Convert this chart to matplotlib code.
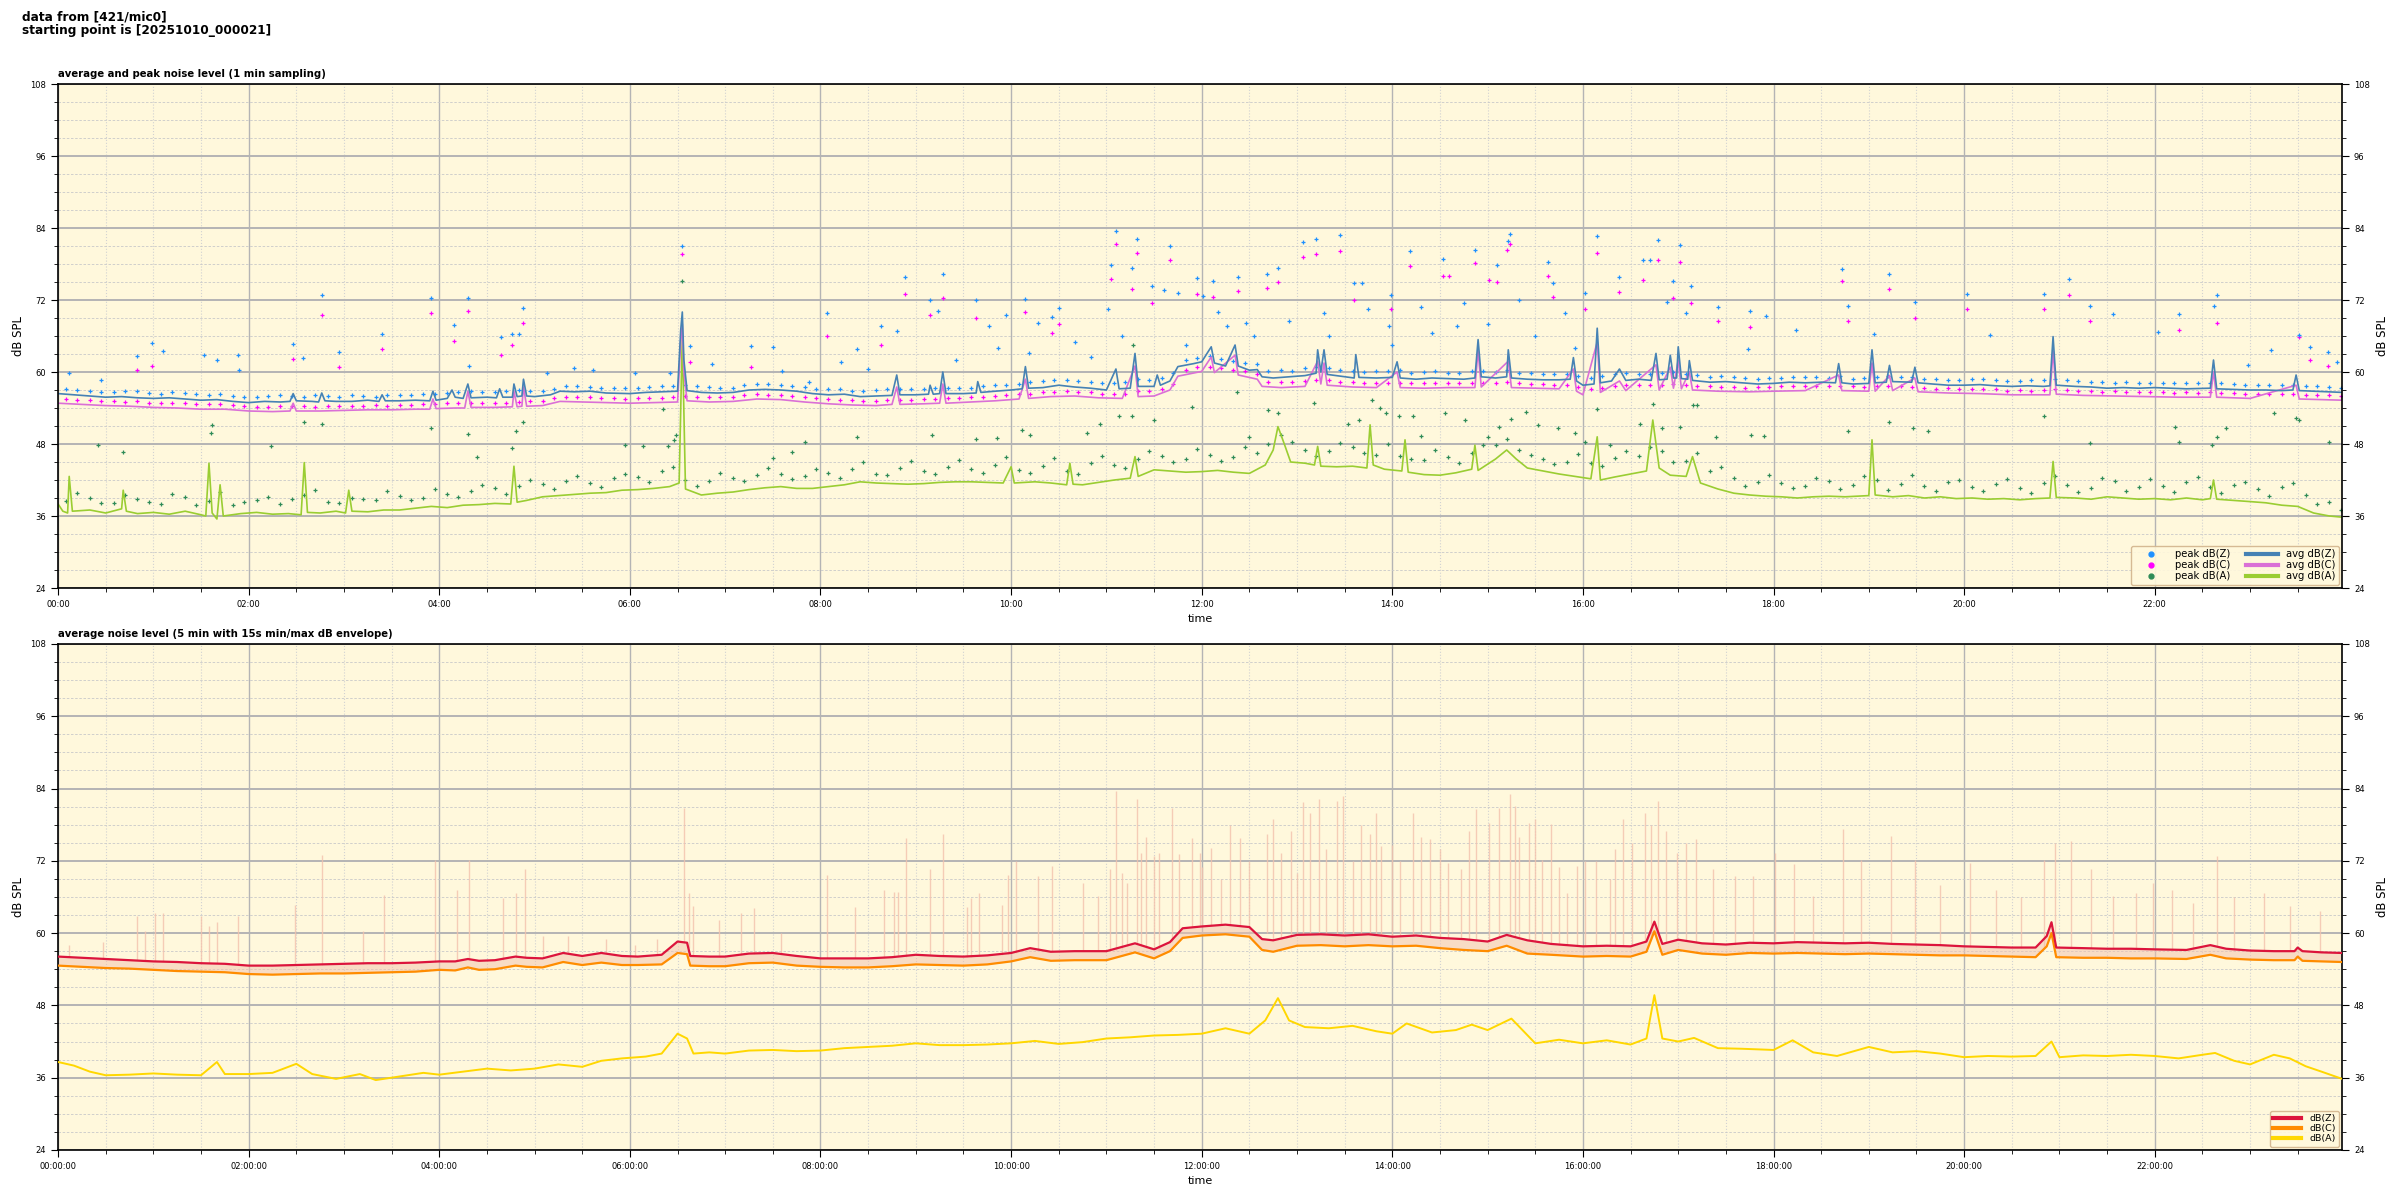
import datetime as dt
import matplotlib
matplotlib.use("Agg")
import matplotlib.pyplot as plt
import matplotlib.dates as mdates
from matplotlib.lines import Line2D
from matplotlib.ticker import MultipleLocator

DAY = dt.datetime(2025, 10, 10)

# ---- upper panel: 1 min averages (time, dB) ----
avg_z = [
    ("00:00", 56.4), ("00:10", 56.2), ("00:20", 56.0), ("00:30", 55.8), ("00:40", 55.9), ("00:50", 55.7),
    ("01:00", 55.6), ("01:10", 55.7), ("01:20", 55.5), ("01:30", 55.3), ("01:40", 55.4), ("01:50", 55.1),
    ("02:00", 54.9), ("02:10", 55.1), ("02:20", 55.0), ("02:26", 55.1), ("02:28", 56.4), ("02:30", 55.2),
    ("02:40", 55.1), ("02:44", 55.0), ("02:46", 56.5), ("02:48", 55.2), ("02:55", 55.1), ("03:05", 55.1),
    ("03:15", 55.3), ("03:22", 55.1), ("03:24", 56.2), ("03:26", 55.2), ("03:35", 55.2), ("03:45", 55.3),
    ("03:54", 55.2), ("03:56", 56.8), ("03:58", 55.3), ("04:05", 55.6), ("04:08", 57.0), ("04:10", 55.8),
    ("04:15", 55.6), ("04:18", 58.0), ("04:20", 55.7), ("04:30", 55.8), ("04:36", 55.7), ("04:38", 57.2),
    ("04:40", 55.8), ("04:46", 55.8), ("04:47", 58.0), ("04:49", 55.9), ("04:52", 56.0), ("04:53", 58.8),
    ("04:55", 56.0), ("05:00", 55.9), ("05:10", 56.2), ("05:16", 56.8), ("05:25", 56.7), ("05:35", 56.8),
    ("05:45", 56.5), ("06:00", 56.4), ("06:10", 56.6), ("06:20", 56.7), ("06:30", 56.8), ("06:32", 67.0),
    ("06:33", 70.0), ("06:34", 62.0), ("06:36", 56.9), ("06:45", 56.6), ("06:55", 56.5), ("07:05", 56.6),
    ("07:15", 57.0), ("07:25", 57.1), ("07:35", 57.0), ("07:45", 56.8), ("07:55", 56.4), ("08:05", 56.2),
    ("08:15", 56.3), ("08:25", 55.9), ("08:35", 56.0), ("08:45", 56.1), ("08:48", 59.5), ("08:50", 56.2),
    ("09:00", 56.2), ("09:08", 56.3), ("09:09", 57.8), ("09:11", 56.3), ("09:15", 56.4), ("09:17", 60.0),
    ("09:19", 56.4), ("09:30", 56.4), ("09:38", 56.5), ("09:39", 58.4), ("09:41", 56.6), ("09:50", 56.8),
    ("10:00", 57.0), ("10:07", 57.2), ("10:09", 60.9), ("10:11", 57.3), ("10:20", 57.4), ("10:30", 57.8),
    ("10:40", 57.5), ("10:50", 57.3), ("11:00", 57.0), ("11:06", 60.5), ("11:08", 57.2), ("11:15", 57.3),
    ("11:18", 63.1), ("11:20", 57.6), ("11:30", 57.6), ("11:32", 59.5), ("11:34", 57.8), ("11:40", 58.5),
    ("11:45", 60.9), ("11:55", 61.4), ("12:00", 61.7), ("12:06", 64.2), ("12:08", 61.5), ("12:15", 61.0),
    ("12:21", 64.5), ("12:23", 61.0), ("12:30", 60.3), ("12:35", 60.4), ("12:38", 59.2), ("12:45", 59.0),
    ("12:55", 59.2), ("13:05", 59.4), ("13:12", 59.8), ("13:13", 63.7), ("13:15", 60.0), ("13:17", 63.7),
    ("13:19", 59.6), ("13:30", 59.2), ("13:36", 59.0), ("13:37", 62.9), ("13:39", 59.1), ("13:50", 59.0),
    ("14:00", 59.1), ("14:03", 61.7), ("14:05", 59.0), ("14:15", 58.8), ("14:25", 59.0), ("14:35", 58.9),
    ("14:45", 58.8), ("14:52", 59.0), ("14:54", 65.4), ("14:56", 59.2), ("15:05", 59.0), ("15:12", 59.2),
    ("15:13", 63.7), ("15:15", 59.0), ("15:25", 58.8), ("15:35", 58.7), ("15:45", 58.7), ("15:52", 58.8),
    ("15:54", 62.4), ("15:56", 58.5), ("16:00", 57.8), ("16:07", 58.0), ("16:09", 67.3), ("16:11", 58.2),
    ("16:18", 58.5), ("16:23", 60.5), ("16:27", 58.6), ("16:35", 58.8), ("16:43", 58.6), ("16:46", 63.1),
    ("16:48", 58.7), ("16:53", 58.8), ("16:55", 62.8), ("16:57", 59.0), ("16:59", 59.0), ("17:00", 64.2),
    ("17:02", 58.9), ("17:06", 58.8), ("17:07", 61.9), ("17:09", 58.6), ("17:20", 58.3), ("17:30", 58.4),
    ("17:40", 58.2), ("17:50", 58.0), ("18:00", 58.1), ("18:10", 58.3), ("18:20", 58.2), ("18:30", 58.3),
    ("18:39", 58.2), ("18:41", 61.4), ("18:43", 58.2), ("18:50", 58.0), ("19:00", 58.1), ("19:02", 63.7),
    ("19:04", 58.2), ("19:11", 58.3), ("19:13", 61.1), ("19:15", 58.4), ("19:27", 58.3), ("19:29", 60.8),
    ("19:31", 58.2), ("19:40", 58.0), ("19:50", 57.8), ("20:00", 57.8), ("20:10", 57.9), ("20:20", 57.7),
    ("20:30", 57.6), ("20:40", 57.7), ("20:50", 57.6), ("20:54", 57.7), ("20:56", 65.9), ("20:58", 57.8),
    ("21:10", 57.6), ("21:20", 57.5), ("21:30", 57.3), ("21:40", 57.4), ("21:50", 57.3), ("22:00", 57.4),
    ("22:10", 57.3), ("22:20", 57.2), ("22:35", 57.3), ("22:37", 62.0), ("22:39", 57.2), ("22:50", 57.1),
    ("23:00", 57.0), ("23:10", 57.0), ("23:20", 56.9), ("23:27", 57.0), ("23:29", 59.5), ("23:31", 56.9),
    ("23:40", 56.8), ("23:50", 56.7), ("23:58", 56.6),
]

avg_c = [
    ("00:00", 54.8), ("00:15", 54.6), ("00:30", 54.4), ("00:45", 54.3), ("01:00", 54.1), ("01:15", 54.0),
    ("01:30", 53.8), ("01:45", 53.8), ("02:00", 53.5), ("02:15", 53.4), ("02:26", 53.5), ("02:28", 54.8),
    ("02:30", 53.5), ("02:45", 53.5), ("03:00", 53.6), ("03:15", 53.7), ("03:30", 53.7), ("03:45", 53.8),
    ("03:54", 53.8), ("03:56", 55.5), ("03:58", 53.9), ("04:10", 54.0), ("04:16", 54.0), ("04:18", 56.8),
    ("04:20", 54.1), ("04:35", 54.1), ("04:46", 54.2), ("04:47", 56.8), ("04:49", 54.2), ("04:52", 54.3),
    ("04:53", 57.5), ("04:55", 54.3), ("05:05", 54.4), ("05:16", 55.1), ("05:30", 55.0), ("05:45", 54.9),
    ("06:00", 54.8), ("06:15", 54.9), ("06:30", 55.0), ("06:32", 65.0), ("06:33", 68.0), ("06:34", 60.0),
    ("06:36", 55.2), ("06:50", 55.0), ("07:05", 55.1), ("07:20", 55.5), ("07:35", 55.4), ("07:50", 55.0),
    ("08:05", 54.7), ("08:20", 54.5), ("08:35", 54.4), ("08:45", 54.6), ("08:48", 57.5), ("08:50", 54.6),
    ("09:05", 54.7), ("09:15", 54.8), ("09:17", 58.0), ("09:19", 54.8), ("09:35", 55.0), ("09:50", 55.2),
    ("10:05", 55.5), ("10:09", 58.8), ("10:11", 55.6), ("10:25", 55.9), ("10:40", 56.0), ("10:55", 55.7),
    ("11:10", 55.6), ("11:18", 61.0), ("11:20", 55.9), ("11:30", 56.0), ("11:40", 57.0), ("11:45", 59.3),
    ("12:00", 60.1), ("12:06", 62.5), ("12:08", 59.9), ("12:21", 62.8), ("12:23", 59.5), ("12:35", 58.8),
    ("12:38", 57.6), ("12:50", 57.4), ("13:05", 57.6), ("13:13", 61.8), ("13:15", 58.0), ("13:17", 61.5),
    ("13:19", 57.8), ("13:35", 57.5), ("13:50", 57.4), ("14:03", 60.0), ("14:05", 57.4), ("14:20", 57.3),
    ("14:35", 57.4), ("14:52", 57.4), ("14:54", 63.6), ("14:56", 57.5), ("15:13", 61.8), ("15:15", 57.4),
    ("15:30", 57.3), ("15:45", 57.2), ("15:54", 60.5), ("15:56", 56.8), ("16:00", 56.2), ("16:09", 65.0),
    ("16:11", 56.6), ("16:23", 58.5), ("16:27", 56.9), ("16:46", 61.2), ("16:48", 57.0), ("16:55", 60.8),
    ("16:57", 57.3), ("17:00", 62.0), ("17:02", 57.2), ("17:07", 60.0), ("17:09", 57.0), ("17:25", 56.8),
    ("17:45", 56.7), ("18:00", 56.8), ("18:20", 56.9), ("18:41", 59.5), ("18:43", 56.9), ("19:00", 56.8),
    ("19:02", 61.5), ("19:04", 56.8), ("19:13", 59.4), ("19:15", 56.9), ("19:29", 59.0), ("19:31", 56.7),
    ("19:50", 56.5), ("20:10", 56.4), ("20:30", 56.2), ("20:54", 56.2), ("20:56", 63.5), ("20:58", 56.3),
    ("21:15", 56.1), ("21:35", 56.0), ("21:55", 55.9), ("22:15", 55.8), ("22:35", 55.8), ("22:37", 60.0),
    ("22:39", 55.8), ("23:00", 55.6), ("23:29", 57.8), ("23:31", 55.5), ("23:45", 55.4), ("23:58", 55.3),
]

avg_a = [
    ("00:00", 38.0), ("00:03", 36.8), ("00:06", 36.5), ("00:07", 42.6), ("00:09", 36.8), ("00:20", 37.0),
    ("00:30", 36.5), ("00:40", 37.2), ("00:41", 40.3), ("00:43", 36.8), ("00:50", 36.4), ("01:00", 36.6),
    ("01:10", 36.3), ("01:20", 36.8), ("01:30", 36.2), ("01:33", 36.0), ("01:35", 44.8), ("01:37", 36.5),
    ("01:40", 35.5), ("01:42", 41.2), ("01:44", 36.0), ("01:55", 36.4), ("02:05", 36.6), ("02:15", 36.3),
    ("02:25", 36.4), ("02:33", 36.2), ("02:35", 44.9), ("02:37", 36.6), ("02:45", 36.5), ("02:55", 36.8),
    ("03:01", 36.5), ("03:03", 40.3), ("03:05", 36.8), ("03:15", 36.7), ("03:25", 37.0), ("03:35", 37.0),
    ("03:45", 37.3), ("03:55", 37.6), ("04:05", 37.4), ("04:15", 37.8), ("04:25", 37.9), ("04:35", 38.1),
    ("04:45", 38.0), ("04:47", 44.3), ("04:49", 38.3), ("04:55", 38.6), ("05:05", 39.2), ("05:15", 39.4),
    ("05:25", 39.6), ("05:35", 39.8), ("05:45", 39.9), ("05:55", 40.3), ("06:05", 40.4), ("06:15", 40.6),
    ("06:25", 40.9), ("06:31", 41.5), ("06:33", 66.0), ("06:35", 40.5), ("06:45", 39.5), ("06:55", 39.8),
    ("07:05", 40.0), ("07:15", 40.4), ("07:25", 40.7), ("07:35", 40.9), ("07:45", 40.6), ("07:55", 40.6),
    ("08:05", 40.9), ("08:15", 41.2), ("08:25", 41.7), ("08:35", 41.5), ("08:45", 41.4), ("08:55", 41.3),
    ("09:05", 41.4), ("09:15", 41.6), ("09:25", 41.7), ("09:35", 41.7), ("09:45", 41.6), ("09:55", 41.5),
    ("10:00", 44.2), ("10:02", 41.5), ("10:15", 41.7), ("10:25", 41.5), ("10:35", 41.2), ("10:37", 44.8),
    ("10:39", 41.3), ("10:45", 41.2), ("10:55", 41.6), ("11:05", 42.0), ("11:15", 42.3), ("11:18", 45.9),
    ("11:20", 42.6), ("11:30", 43.7), ("11:40", 43.5), ("11:50", 43.3), ("12:00", 43.4), ("12:10", 43.6),
    ("12:20", 43.3), ("12:30", 43.1), ("12:40", 44.5), ("12:45", 47.0), ("12:48", 50.9), ("12:52", 48.0),
    ("12:56", 45.0), ("13:05", 44.8), ("13:11", 44.5), ("13:13", 47.6), ("13:15", 44.3), ("13:25", 44.2),
    ("13:35", 44.3), ("13:44", 44.0), ("13:46", 51.2), ("13:48", 44.5), ("13:55", 43.8), ("14:06", 43.5),
    ("14:08", 48.7), ("14:10", 43.3), ("14:20", 42.9), ("14:30", 42.8), ("14:40", 43.2), ("14:50", 43.8),
    ("14:52", 47.8), ("14:54", 43.6), ("15:05", 45.5), ("15:12", 47.0), ("15:18", 45.5), ("15:25", 44.0),
    ("15:35", 43.5), ("15:45", 43.0), ("15:55", 42.6), ("16:05", 42.2), ("16:09", 49.2), ("16:11", 42.0),
    ("16:20", 42.5), ("16:30", 43.0), ("16:40", 43.5), ("16:44", 52.0), ("16:48", 44.0), ("16:55", 42.8),
    ("17:05", 42.6), ("17:09", 45.9), ("17:14", 41.5), ("17:25", 40.5), ("17:35", 39.8), ("17:45", 39.5),
    ("17:55", 39.3), ("18:05", 39.2), ("18:15", 39.0), ("18:25", 39.2), ("18:35", 39.3), ("18:45", 39.2),
    ("19:00", 39.4), ("19:02", 48.7), ("19:04", 39.5), ("19:15", 39.2), ("19:25", 39.4), ("19:35", 39.0),
    ("19:45", 39.2), ("19:55", 38.9), ("20:05", 39.0), ("20:15", 38.8), ("20:25", 38.9), ("20:35", 38.7),
    ("20:45", 38.9), ("20:54", 39.0), ("20:56", 45.1), ("20:58", 39.1), ("21:10", 39.0), ("21:20", 38.8),
    ("21:30", 39.2), ("21:40", 39.0), ("21:50", 38.8), ("22:00", 38.9), ("22:10", 38.7), ("22:20", 39.0),
    ("22:30", 38.7), ("22:35", 38.9), ("22:37", 42.0), ("22:39", 38.8), ("22:50", 38.6), ("23:00", 38.4),
    ("23:10", 38.2), ("23:20", 37.8), ("23:30", 37.6), ("23:40", 36.5), ("23:50", 36.0), ("23:58", 35.8),
]

# peak values near the average lines, every 15 min from 00:05 (band 1) and from 00:12 (band 2)
band_z = [
    57.2, 56.9, 56.6, 56.8, 56.4, 56.5, 56.2, 56.0, 55.8, 56.1, 55.9, 56.0, 56.2, 55.9, 56.1, 56.3,
    56.5, 56.8, 56.6, 57.0, 56.9, 57.6, 57.5, 57.4, 57.3, 57.6, 57.8, 57.5, 57.4, 58.0, 57.8, 57.5,
    57.1, 56.9, 57.0, 57.2, 57.1, 57.4, 57.3, 57.8, 58.0, 58.5, 58.6, 58.4, 58.2, 58.8, 59.0, 62.0,
    62.6, 61.9, 61.4, 60.3, 60.6, 60.7, 60.2, 60.1, 60.3, 60.0, 59.9, 60.1, 60.0, 59.8, 59.7, 59.6,
    59.0, 59.6, 59.7, 59.9, 59.7, 59.2, 59.2, 58.9, 59.0, 59.1, 59.0, 58.9, 59.1, 59.2, 58.9, 58.7,
    58.8, 58.6, 58.5, 58.6, 58.7, 58.4, 58.2, 58.2, 58.2, 58.1, 58.2, 58.0, 57.9, 57.8, 57.7, 57.5,
]
band_z2 = [
    57.0, 56.7, 56.9, 56.5, 56.6, 56.3, 56.4, 55.8, 56.0, 56.0, 56.1, 55.9, 56.0, 56.1, 56.2, 56.4,
    56.7, 56.6, 56.8, 56.8, 57.2, 57.7, 57.4, 57.3, 57.5, 57.7, 57.6, 57.3, 57.8, 58.0, 57.7, 57.2,
    57.2, 56.8, 57.1, 57.2, 57.3, 57.4, 57.6, 57.9, 58.3, 58.6, 58.5, 58.1, 58.3, 58.6, 59.8, 62.3,
    62.1, 61.5, 60.1, 60.2, 60.8, 60.4, 60.0, 60.2, 59.9, 60.1, 59.8, 60.2, 60.3, 59.8, 59.6, 59.3,
    59.3, 59.8, 59.6, 60.0, 59.5, 59.3, 59.0, 59.0, 59.2, 59.1, 59.3, 59.0, 59.3, 59.1, 58.8, 58.7,
    58.8, 58.5, 58.6, 58.9, 58.5, 58.3, 58.3, 58.2, 58.2, 58.1, 58.1, 57.9, 57.9, 57.8, 57.6, 57.4,
]
band_c = [
    55.5, 55.4, 55.2, 55.1, 54.9, 54.8, 54.6, 54.5, 54.2, 54.3, 54.3, 54.3, 54.4, 54.5, 54.5, 54.6,
    54.8, 54.9, 54.9, 55.0, 55.2, 55.9, 55.8, 55.7, 55.6, 55.7, 56.0, 55.8, 55.9, 56.3, 56.2, 55.8,
    55.5, 55.3, 55.2, 55.4, 55.5, 55.6, 55.8, 56.0, 56.3, 56.6, 56.8, 56.6, 56.4, 56.8, 57.2, 60.3,
    60.9, 60.4, 59.6, 58.3, 58.5, 58.6, 58.3, 58.2, 58.2, 58.1, 58.2, 58.2, 58.2, 58.1, 58.0, 57.9,
    57.2, 57.6, 57.8, 57.9, 57.9, 57.6, 57.5, 57.5, 57.6, 57.7, 57.6, 57.6, 57.6, 57.6, 57.4, 57.3,
    57.2, 57.1, 57.0, 57.0, 57.0, 56.9, 56.8, 56.7, 56.7, 56.6, 56.6, 56.5, 56.4, 56.3, 56.2, 56.1,
]
band_c2 = [
    55.4, 55.2, 55.0, 54.9, 54.8, 54.6, 54.6, 54.3, 54.2, 54.3, 54.2, 54.3, 54.4, 54.4, 54.5, 54.6,
    54.8, 54.8, 54.9, 55.1, 55.6, 55.8, 55.7, 55.5, 55.6, 55.8, 55.9, 55.8, 56.1, 56.2, 56.0, 55.6,
    55.4, 55.2, 55.3, 55.4, 55.5, 55.7, 55.8, 56.1, 56.4, 56.7, 56.7, 56.4, 56.4, 56.8, 58.0, 60.8,
    60.6, 60.2, 58.3, 58.3, 58.6, 58.4, 58.2, 58.1, 58.1, 58.2, 58.1, 58.2, 58.3, 58.0, 57.9, 57.5,
    57.4, 57.8, 57.8, 58.0, 57.7, 57.5, 57.4, 57.5, 57.6, 57.6, 57.7, 57.5, 57.7, 57.5, 57.2, 57.2,
    57.1, 56.9, 56.9, 57.2, 56.8, 56.7, 56.7, 56.6, 56.5, 56.5, 56.5, 56.3, 56.3, 56.4, 56.1, 56.0,
]
band_a = [
    38.5, 39.0, 38.2, 38.8, 38.0, 39.2, 38.5, 37.8, 38.6, 38.0, 39.5, 38.4, 39.0, 38.6, 39.4, 39.0,
    39.6, 40.2, 40.6, 41.0, 41.3, 41.8, 41.5, 42.3, 42.5, 43.5, 42.0, 41.8, 42.3, 42.8, 43.0, 42.6,
    43.2, 43.8, 43.0, 44.0, 43.5, 44.2, 43.8, 44.5, 43.6, 44.3, 43.5, 44.8, 44.5, 45.5, 46.0, 45.5,
    46.2, 45.8, 46.5, 49.5, 47.0, 46.8, 47.5, 46.2, 46.0, 45.3, 45.8, 46.5, 47.8, 47.0, 45.5, 45.0,
    44.8, 45.6, 46.0, 46.8, 45.2, 43.5, 42.3, 41.6, 41.5, 41.0, 41.8, 41.2, 42.0, 41.4, 41.0, 41.6,
    40.8, 41.3, 40.6, 41.5, 41.2, 40.7, 41.8, 40.9, 41.0, 41.6, 40.8, 41.2, 40.5, 40.9, 39.5, 38.4,
]
band_a2 = [
    39.8, 38.1, 39.5, 38.4, 39.7, 37.9, 40.0, 38.3, 39.2, 38.8, 40.3, 38.2, 38.9, 40.1, 38.7, 40.5,
    39.1, 41.2, 39.6, 42.0, 40.5, 42.6, 40.8, 43.0, 41.6, 44.2, 41.0, 43.2, 41.8, 44.0, 42.1, 43.9,
    42.4, 45.0, 42.9, 45.2, 43.0, 45.3, 43.1, 45.8, 43.2, 45.6, 43.0, 46.0, 44.0, 46.8, 45.0, 47.2,
    45.1, 47.5, 48.0, 48.3, 46.0, 48.2, 46.5, 48.0, 45.5, 47.0, 44.8, 47.9, 48.8, 46.2, 44.6, 46.3,
    44.3, 46.9, 47.5, 45.0, 46.5, 44.2, 41.0, 42.8, 40.6, 42.4, 40.5, 42.6, 40.4, 42.8, 40.2, 42.0,
    40.1, 42.2, 39.9, 42.7, 40.0, 42.3, 40.2, 42.1, 40.0, 42.5, 39.9, 41.7, 39.3, 41.5, 38.0, 37.0,
]

peak_z = [
    ("00:07", 59.8), ("00:27", 58.7), ("00:50", 62.7), ("00:59", 64.8), ("01:06", 63.5), ("01:32", 62.8),
    ("01:40", 62.0), ("01:53", 62.8), ("01:54", 60.4), ("02:28", 64.7), ("02:34", 62.4), ("02:46", 72.8),
    ("02:57", 63.3), ("03:24", 66.4), ("03:55", 72.3), ("04:09", 67.8), ("04:18", 72.3), ("04:19", 61.0),
    ("04:39", 65.9), ("04:46", 66.4), ("04:50", 66.4), ("04:53", 70.6), ("05:08", 59.9), ("05:25", 60.6),
    ("05:37", 60.3), ("06:03", 59.9), ("06:25", 59.9), ("06:33", 81.0), ("06:38", 64.3), ("06:52", 61.4),
    ("07:16", 64.3), ("07:30", 64.1), ("07:36", 60.2), ("07:53", 58.4), ("08:04", 69.8), ("08:13", 61.7),
    ("08:23", 63.9), ("08:30", 60.5), ("08:38", 67.7), ("08:48", 66.9), ("08:53", 75.9), ("09:09", 72.0),
    ("09:14", 70.2), ("09:17", 76.3), ("09:25", 62.0), ("09:38", 72.0), ("09:46", 67.6), ("09:52", 64.0),
    ("09:57", 69.5), ("10:09", 72.1), ("10:11", 63.1), ("10:17", 68.1), ("10:26", 69.1), ("10:30", 70.6),
    ("10:40", 65.0), ("10:50", 62.5), ("11:01", 70.5), ("11:03", 77.9), ("11:06", 83.5), ("11:10", 66.0),
    ("11:16", 77.3), ("11:19", 82.1), ("11:29", 74.3), ("11:36", 73.7), ("11:40", 81.0), ("11:45", 73.1),
    ("11:50", 64.5), ("11:57", 75.7), ("12:01", 72.6), ("12:07", 75.1), ("12:10", 70.0), ("12:16", 67.6),
    ("12:23", 75.9), ("12:28", 68.1), ("12:33", 66.0), ("12:41", 76.3), ("12:48", 77.3), ("12:55", 68.5),
    ("13:04", 81.6), ("13:12", 82.2), ("13:17", 69.8), ("13:20", 66.0), ("13:27", 82.8), ("13:36", 74.8),
    ("13:41", 74.9), ("13:45", 70.5), ("13:58", 67.6), ("13:59", 72.9), ("14:00", 64.5), ("14:11", 80.1),
    ("14:18", 70.9), ("14:25", 66.5), ("14:32", 78.9), ("14:41", 67.6), ("14:45", 71.5), ("14:52", 80.3),
    ("15:00", 68.0), ("15:06", 77.8), ("15:13", 81.9), ("15:14", 83.0), ("15:20", 72.0), ("15:30", 66.0),
    ("15:38", 78.4), ("15:41", 74.9), ("15:49", 69.8), ("15:55", 64.0), ("16:01", 73.1), ("16:09", 82.7),
    ("16:23", 75.8), ("16:38", 78.7), ("16:42", 78.6), ("16:47", 82.0), ("16:53", 71.7), ("16:57", 75.2),
    ("17:01", 81.2), ("17:05", 69.9), ("17:08", 74.3), ("17:25", 70.9), ("17:44", 63.8), ("17:45", 70.2),
    ("17:55", 69.3), ("18:14", 67.0), ("18:43", 77.1), ("18:47", 71.0), ("19:03", 66.4), ("19:13", 76.3),
    ("19:29", 71.7), ("20:02", 73.0), ("20:16", 66.2), ("20:50", 73.0), ("21:06", 75.5), ("21:19", 71.0),
    ("21:34", 69.6), ("22:02", 66.6), ("22:15", 69.6), ("22:37", 71.0), ("22:39", 72.8), ("22:59", 61.2),
    ("23:13", 63.7), ("23:31", 66.2), ("23:38", 64.1), ("23:49", 63.4), ("23:55", 61.7),
]
peak_c = [
    ("00:50", 60.3), ("00:59", 61.0), ("02:28", 62.2), ("02:46", 69.5), ("02:57", 60.8), ("03:24", 63.8),
    ("03:55", 69.9), ("04:09", 65.1), ("04:18", 70.2), ("04:39", 62.8), ("04:46", 64.5), ("04:53", 68.1),
    ("06:33", 79.7), ("06:38", 61.6), ("07:16", 60.8), ("08:04", 66.0), ("08:38", 64.5), ("08:53", 73.0),
    ("09:09", 69.5), ("09:17", 72.3), ("09:38", 69.0), ("10:09", 70.0), ("10:26", 66.5), ("10:30", 68.0),
    ("11:03", 75.5), ("11:06", 81.3), ("11:16", 73.9), ("11:19", 79.8), ("11:29", 71.5), ("11:40", 78.7),
    ("11:57", 73.0), ("12:07", 72.5), ("12:23", 73.5), ("12:41", 74.0), ("12:48", 75.0), ("13:04", 79.2),
    ("13:12", 79.7), ("13:27", 80.1), ("13:36", 72.0), ("13:59", 70.5), ("14:11", 77.7), ("14:32", 76.0),
    ("14:36", 76.0), ("14:52", 78.2), ("15:01", 75.3), ("15:06", 75.0), ("15:12", 80.3), ("15:14", 81.3),
    ("15:38", 76.0), ("15:41", 72.5), ("16:01", 70.5), ("16:09", 79.8), ("16:23", 73.4), ("16:38", 75.4),
    ("16:47", 78.7), ("16:57", 72.4), ("17:01", 78.3), ("17:08", 71.5), ("17:25", 68.5), ("17:45", 67.5),
    ("18:43", 75.1), ("18:47", 68.5), ("19:13", 73.9), ("19:29", 69.0), ("20:02", 70.5), ("20:50", 70.5),
    ("21:06", 72.9), ("21:19", 68.5), ("22:15", 67.0), ("22:39", 68.1), ("23:31", 65.9), ("23:38", 62.0),
    ("23:49", 61.0),
]
peak_a = [
    ("00:25", 47.8), ("00:41", 46.7), ("01:36", 49.8), ("01:37", 51.2), ("02:14", 47.6), ("02:35", 51.7),
    ("02:46", 51.3), ("03:55", 50.6), ("04:18", 49.7), ("04:24", 45.9), ("04:46", 47.3), ("04:48", 50.2),
    ("04:53", 51.6), ("05:57", 47.8), ("06:08", 47.7), ("06:21", 53.8), ("06:24", 47.6), ("06:28", 48.7),
    ("06:29", 49.5), ("06:33", 75.2), ("07:30", 45.7), ("07:42", 46.7), ("07:50", 48.4), ("08:23", 49.2),
    ("09:10", 49.5), ("09:38", 48.9), ("09:51", 49.0), ("10:07", 50.4), ("10:12", 49.5), ("10:48", 49.9),
    ("10:56", 51.4), ("11:08", 52.7), ("11:16", 52.7), ("11:17", 64.5), ("11:30", 52.0), ("11:54", 54.2),
    ("12:22", 56.7), ("12:30", 49.2), ("12:42", 53.7), ("12:48", 53.1), ("13:11", 54.9), ("13:32", 51.4),
    ("13:39", 52.0), ("13:47", 55.3), ("13:52", 54.0), ("13:56", 53.1), ("14:04", 52.6), ("14:13", 52.6),
    ("14:18", 49.3), ("14:33", 53.1), ("14:46", 52.0), ("15:00", 49.2), ("15:07", 50.9), ("15:15", 52.1),
    ("15:24", 53.4), ("15:32", 51.2), ("15:44", 50.6), ("15:55", 49.8), ("16:01", 48.4), ("16:09", 53.8),
    ("16:17", 47.8), ("16:36", 51.3), ("16:44", 54.7), ("16:50", 50.6), ("17:01", 50.9), ("17:09", 54.5),
    ("17:12", 54.5), ("17:24", 49.1), ("17:46", 49.5), ("17:54", 49.3), ("18:47", 50.1), ("19:13", 51.6),
    ("19:28", 50.6), ("19:37", 50.2), ("20:50", 52.6), ("21:19", 48.1), ("22:13", 50.9), ("22:15", 48.4),
    ("22:36", 47.8), ("22:39", 49.1), ("22:45", 50.6), ("23:15", 53.1), ("23:29", 52.3), ("23:31", 52.0),
    ("23:50", 48.4),
]

# ---- lower panel: 5 min averages ----
low_z = [
    ("00:00", 56.1), ("00:15", 55.9), ("00:30", 55.7), ("00:45", 55.5), ("01:00", 55.3), ("01:15", 55.2),
    ("01:30", 55.0), ("01:45", 54.9), ("02:00", 54.6), ("02:15", 54.6), ("02:30", 54.7), ("02:45", 54.8),
    ("03:00", 54.9), ("03:15", 55.0), ("03:30", 55.0), ("03:45", 55.1), ("04:00", 55.3), ("04:10", 55.3),
    ("04:18", 55.7), ("04:25", 55.4), ("04:35", 55.5), ("04:48", 56.1), ("04:55", 55.9), ("05:05", 55.8),
    ("05:18", 56.7), ("05:30", 56.2), ("05:42", 56.7), ("05:55", 56.2), ("06:05", 56.1), ("06:20", 56.4),
    ("06:30", 58.6), ("06:36", 58.4), ("06:38", 56.2), ("06:50", 56.1), ("07:00", 56.1), ("07:15", 56.6),
    ("07:30", 56.7), ("07:45", 56.2), ("08:00", 55.8), ("08:15", 55.8), ("08:30", 55.8), ("08:45", 56.0),
    ("09:00", 56.4), ("09:15", 56.2), ("09:30", 56.1), ("09:45", 56.3), ("10:00", 56.7), ("10:12", 57.5),
    ("10:25", 56.9), ("10:40", 57.0), ("11:00", 57.0), ("11:18", 58.3), ("11:30", 57.3), ("11:40", 58.5),
    ("11:48", 60.8), ("12:00", 61.1), ("12:15", 61.4), ("12:30", 61.0), ("12:38", 59.0), ("12:45", 58.8),
    ("13:00", 59.7), ("13:15", 59.8), ("13:30", 59.6), ("13:45", 59.8), ("14:00", 59.4), ("14:15", 59.6),
    ("14:30", 59.2), ("14:45", 59.0), ("15:00", 58.6), ("15:12", 59.7), ("15:25", 58.8), ("15:40", 58.2),
    ("16:00", 57.8), ("16:15", 57.9), ("16:30", 57.8), ("16:40", 58.6), ("16:45", 61.9), ("16:50", 58.2),
    ("17:00", 58.9), ("17:15", 58.3), ("17:30", 58.1), ("17:45", 58.4), ("18:00", 58.3), ("18:15", 58.5),
    ("18:30", 58.4), ("18:45", 58.3), ("19:00", 58.4), ("19:15", 58.2), ("19:30", 58.1), ("19:45", 58.0),
    ("20:00", 57.8), ("20:15", 57.7), ("20:30", 57.6), ("20:45", 57.6), ("20:52", 59.5), ("20:55", 61.8),
    ("20:58", 57.6), ("21:15", 57.5), ("21:30", 57.4), ("21:45", 57.4), ("22:00", 57.3), ("22:20", 57.2),
    ("22:35", 58.0), ("22:45", 57.4), ("23:00", 57.1), ("23:15", 57.0), ("23:28", 57.0), ("23:30", 57.6),
    ("23:33", 57.0), ("23:45", 56.8), ("23:58", 56.7),
]
low_c = [
    ("00:00", 54.6), ("00:15", 54.4), ("00:30", 54.2), ("00:45", 54.1), ("01:00", 53.9), ("01:15", 53.7),
    ("01:30", 53.6), ("01:45", 53.5), ("02:00", 53.2), ("02:15", 53.1), ("02:30", 53.2), ("02:45", 53.3),
    ("03:00", 53.3), ("03:15", 53.4), ("03:30", 53.5), ("03:45", 53.6), ("04:00", 53.9), ("04:10", 53.8),
    ("04:18", 54.3), ("04:25", 53.9), ("04:35", 54.0), ("04:48", 54.6), ("04:55", 54.4), ("05:05", 54.3),
    ("05:18", 55.2), ("05:30", 54.7), ("05:42", 55.1), ("05:55", 54.7), ("06:05", 54.7), ("06:20", 54.8),
    ("06:30", 56.7), ("06:36", 56.5), ("06:38", 54.6), ("06:50", 54.5), ("07:00", 54.5), ("07:15", 55.0),
    ("07:30", 55.1), ("07:45", 54.6), ("08:00", 54.4), ("08:15", 54.3), ("08:30", 54.3), ("08:45", 54.5),
    ("09:00", 54.8), ("09:15", 54.7), ("09:30", 54.6), ("09:45", 54.8), ("10:00", 55.3), ("10:12", 56.0),
    ("10:25", 55.4), ("10:40", 55.5), ("11:00", 55.5), ("11:18", 56.8), ("11:30", 55.8), ("11:40", 57.0),
    ("11:48", 59.2), ("12:00", 59.6), ("12:15", 59.8), ("12:30", 59.4), ("12:38", 57.2), ("12:45", 56.9),
    ("13:00", 57.9), ("13:15", 58.0), ("13:30", 57.8), ("13:45", 58.0), ("14:00", 57.8), ("14:15", 57.9),
    ("14:30", 57.5), ("14:45", 57.2), ("15:00", 57.0), ("15:12", 57.9), ("15:25", 56.6), ("15:40", 56.4),
    ("16:00", 56.1), ("16:15", 56.2), ("16:30", 56.1), ("16:40", 56.9), ("16:45", 60.3), ("16:50", 56.4),
    ("17:00", 57.2), ("17:15", 56.6), ("17:30", 56.4), ("17:45", 56.7), ("18:00", 56.6), ("18:15", 56.7),
    ("18:30", 56.6), ("18:45", 56.5), ("19:00", 56.6), ("19:15", 56.5), ("19:30", 56.4), ("19:45", 56.3),
    ("20:00", 56.3), ("20:15", 56.2), ("20:30", 56.1), ("20:45", 56.0), ("20:52", 57.8), ("20:55", 60.0),
    ("20:58", 56.0), ("21:15", 55.9), ("21:30", 55.9), ("21:45", 55.8), ("22:00", 55.8), ("22:20", 55.7),
    ("22:35", 56.4), ("22:45", 55.8), ("23:00", 55.6), ("23:15", 55.5), ("23:28", 55.5), ("23:30", 56.1),
    ("23:33", 55.4), ("23:45", 55.3), ("23:58", 55.2),
]
low_a = [
    ("00:00", 38.6), ("00:10", 38.0), ("00:20", 37.0), ("00:30", 36.4), ("00:45", 36.5), ("01:00", 36.7),
    ("01:15", 36.5), ("01:30", 36.4), ("01:40", 38.6), ("01:45", 36.6), ("02:00", 36.6), ("02:15", 36.8),
    ("02:30", 38.3), ("02:40", 36.6), ("02:55", 35.8), ("03:10", 36.6), ("03:20", 35.6), ("03:35", 36.2),
    ("03:50", 36.8), ("04:00", 36.5), ("04:15", 37.0), ("04:30", 37.5), ("04:45", 37.2), ("05:00", 37.5),
    ("05:15", 38.2), ("05:30", 37.8), ("05:42", 38.8), ("05:55", 39.2), ("06:10", 39.5), ("06:20", 40.0),
    ("06:30", 43.3), ("06:36", 42.5), ("06:40", 40.0), ("06:50", 40.2), ("07:00", 40.0), ("07:15", 40.5),
    ("07:30", 40.6), ("07:45", 40.4), ("08:00", 40.5), ("08:15", 40.9), ("08:30", 41.1), ("08:45", 41.3),
    ("09:00", 41.7), ("09:15", 41.4), ("09:30", 41.4), ("09:45", 41.5), ("10:00", 41.7), ("10:15", 42.1),
    ("10:30", 41.6), ("10:45", 41.9), ("11:00", 42.5), ("11:15", 42.7), ("11:30", 43.0), ("11:45", 43.1),
    ("12:00", 43.3), ("12:15", 44.2), ("12:30", 43.3), ("12:40", 45.5), ("12:48", 49.2), ("12:55", 45.5),
    ("13:05", 44.4), ("13:20", 44.2), ("13:35", 44.6), ("13:50", 43.7), ("14:00", 43.3), ("14:09", 45.0),
    ("14:25", 43.5), ("14:40", 43.9), ("14:50", 44.8), ("15:00", 43.9), ("15:15", 45.8), ("15:30", 41.7),
    ("15:45", 42.3), ("16:00", 41.7), ("16:15", 42.2), ("16:30", 41.5), ("16:40", 42.5), ("16:45", 49.7),
    ("16:50", 42.5), ("17:00", 42.0), ("17:10", 42.6), ("17:25", 40.9), ("17:40", 40.8), ("18:00", 40.6),
    ("18:12", 42.2), ("18:25", 40.2), ("18:40", 39.6), ("19:00", 41.1), ("19:15", 40.2), ("19:30", 40.4),
    ("19:45", 40.0), ("20:00", 39.4), ("20:15", 39.6), ("20:30", 39.5), ("20:45", 39.6), ("20:55", 42.0),
    ("21:00", 39.4), ("21:15", 39.7), ("21:30", 39.6), ("21:45", 39.8), ("22:00", 39.6), ("22:15", 39.2),
    ("22:30", 39.8), ("22:38", 40.1), ("22:50", 38.8), ("23:00", 38.2), ("23:15", 39.8), ("23:25", 39.2),
    ("23:35", 37.9), ("23:45", 37.0), ("23:58", 35.8),
]

# 15 s max envelope spikes: (time, low dB, high dB)
env_spikes = [
    ("00:07", 56.0, 58.0), ("00:28", 55.8, 58.5), ("00:50", 55.6, 62.8), ("00:55", 55.6, 60.3),
    ("01:01", 55.4, 63.3), ("01:06", 55.3, 63.3), ("01:30", 55.0, 62.8), ("01:35", 55.0, 61.1),
    ("01:40", 55.0, 61.9), ("01:53", 54.8, 62.8), ("02:29", 54.7, 64.7), ("02:46", 54.7, 72.9),
    ("03:12", 54.9, 60.3), ("03:25", 55.0, 66.4), ("03:57", 55.2, 72.2), ("04:11", 55.4, 67.2),
    ("04:19", 55.5, 72.2), ("04:40", 55.6, 65.8), ("04:48", 55.9, 66.7), ("04:54", 55.9, 70.6),
    ("05:05", 55.8, 59.5), ("05:21", 56.5, 59.5), ("05:45", 56.5, 59.0), ("06:03", 56.1, 58.0),
    ("06:17", 56.3, 59.0), ("06:34", 58.4, 80.8), ("06:37", 57.5, 66.7), ("06:40", 56.2, 64.5),
    ("06:56", 56.1, 62.2), ("07:10", 56.4, 63.4), ("07:18", 56.6, 64.2), ("07:35", 56.6, 60.0),
    ("08:04", 55.8, 69.7), ("08:22", 55.8, 64.4), ("08:40", 55.9, 67.2), ("08:46", 56.0, 66.9),
    ("08:49", 56.0, 66.9), ("08:54", 56.1, 75.8), ("09:09", 56.3, 70.6), ("09:17", 56.2, 76.4),
    ("09:32", 56.1, 64.4), ("09:35", 56.1, 65.8), ("09:40", 56.2, 66.7), ("09:54", 56.4, 64.7),
    ("09:58", 56.5, 69.7), ("10:03", 56.7, 72.0), ("10:17", 57.3, 69.4), ("10:26", 57.1, 71.1),
    ("10:45", 57.0, 68.3), ("10:55", 57.0, 66.1), ("11:02", 57.0, 70.6), ("11:06", 57.2, 83.6),
    ("11:10", 57.4, 70.0), ("11:13", 57.8, 68.3), ("11:19", 58.3, 82.2), ("11:22", 57.8, 73.3),
    ("11:25", 57.5, 76.0), ("11:30", 57.3, 72.8), ("11:33", 57.4, 73.3), ("11:41", 58.6, 80.8),
    ("11:46", 60.5, 73.1), ("11:54", 61.0, 75.8), ("11:59", 61.1, 73.3), ("12:00", 61.1, 71.0),
    ("12:06", 61.2, 74.2), ("12:12", 61.3, 69.0), ("12:18", 61.4, 78.0), ("12:24", 61.3, 75.8),
    ("12:30", 61.0, 72.0), ("12:41", 60.0, 76.4), ("12:45", 58.8, 79.0), ("12:50", 59.0, 73.3),
    ("12:56", 59.4, 77.0), ("13:00", 59.7, 70.0), ("13:04", 59.6, 81.7), ("13:08", 59.7, 80.0),
    ("13:14", 59.8, 82.2), ("13:18", 59.8, 74.0), ("13:25", 59.7, 81.9), ("13:29", 59.6, 82.8),
    ("13:35", 59.6, 72.0), ("13:40", 59.7, 78.0), ("13:46", 59.8, 76.4), ("13:50", 59.7, 80.0),
    ("13:53", 59.6, 74.4), ("14:00", 59.4, 74.7), ("14:05", 59.5, 72.0), ("14:13", 59.5, 80.0),
    ("14:18", 59.5, 76.0), ("14:24", 59.4, 75.6), ("14:30", 59.2, 74.0), ("14:35", 59.2, 71.7),
    ("14:43", 59.1, 70.6), ("14:48", 59.0, 77.0), ("14:53", 59.0, 80.6), ("15:01", 58.6, 78.3),
    ("15:07", 59.3, 80.8), ("15:14", 59.7, 83.1), ("15:17", 59.5, 81.1), ("15:20", 59.3, 76.0),
    ("15:26", 58.8, 78.3), ("15:30", 58.7, 79.0), ("15:34", 58.6, 72.2), ("15:40", 58.2, 78.1),
    ("15:45", 58.1, 71.0), ("15:50", 58.0, 66.7), ("15:56", 57.9, 71.1), ("16:01", 57.8, 72.0),
    ("16:08", 57.9, 72.0), ("16:17", 57.9, 69.0), ("16:20", 57.9, 74.0), ("16:25", 57.8, 79.0),
    ("16:31", 57.8, 75.0), ("16:39", 58.4, 80.0), ("16:43", 59.0, 78.0), ("16:47", 60.0, 81.9),
    ("16:52", 58.3, 77.0), ("16:59", 58.9, 73.3), ("17:05", 58.7, 75.0), ("17:11", 58.5, 75.6),
    ("17:22", 58.3, 70.6), ("17:36", 58.1, 69.4), ("17:47", 58.3, 69.4), ("18:01", 58.3, 73.3),
    ("18:13", 58.5, 71.4), ("18:25", 58.4, 66.1), ("18:44", 58.3, 77.2), ("18:55", 58.4, 72.2),
    ("19:14", 58.2, 76.1), ("19:29", 58.1, 72.2), ("19:45", 58.0, 68.0), ("20:04", 57.8, 71.7),
    ("20:20", 57.7, 67.2), ("20:36", 57.6, 66.0), ("20:50", 57.6, 72.2), ("20:57", 59.0, 75.0),
    ("21:07", 57.5, 75.3), ("21:20", 57.5, 70.6), ("21:34", 57.4, 66.1), ("21:48", 57.4, 66.7),
    ("21:59", 57.3, 68.3), ("22:11", 57.3, 67.2), ("22:24", 57.2, 65.0), ("22:39", 57.8, 72.8),
    ("22:50", 57.2, 66.0), ("23:09", 57.1, 66.7), ("23:25", 57.0, 64.5), ("23:44", 56.8, 63.6),
]


def at(hhmm):
    h, m = hhmm.split(":")
    return DAY + dt.timedelta(hours=int(h), minutes=int(m))


def unzip(pairs):
    return [at(p[0]) for p in pairs], [p[1] for p in pairs]


band_t = [DAY + dt.timedelta(minutes=5 + 15 * i) for i in range(len(band_z))]
band_t2 = [DAY + dt.timedelta(minutes=12 + 15 * i) for i in range(len(band_z2))]

BG = "cornsilk"


def style(ax, fmt):
    ax.set_facecolor(BG)
    ax.set_xlim(DAY, DAY + dt.timedelta(hours=23, minutes=58))
    ax.set_ylim(24, 108)
    ax.yaxis.set_major_locator(MultipleLocator(12))
    ax.yaxis.set_minor_locator(MultipleLocator(3))
    ax.xaxis.set_major_locator(mdates.HourLocator(interval=2))
    ax.xaxis.set_minor_locator(mdates.MinuteLocator(byminute=[0, 30]))
    ax.xaxis.set_major_formatter(mdates.DateFormatter(fmt))
    ax.tick_params(which="both", right=True, labelright=True, labelsize=6)
    ax.tick_params(which="major", length=5)
    ax.tick_params(which="minor", length=3)
    ax.grid(which="major", axis="y", color="#b4b4b4", lw=1.4)
    ax.grid(which="major", axis="x", color="#b4b4b4", lw=1.0)
    ax.grid(which="minor", axis="y", color="#c9c9c9", ls=(0, (3, 2)), lw=0.6)
    ax.grid(which="minor", axis="x", color="#d2d2d2", ls=":", lw=0.8)
    ax.set_axisbelow(True)
    for s in ax.spines.values():
        s.set_linewidth(1.2)
    ax.set_ylabel("dB SPL", fontsize=8.4)
    ax.text(1.0175, 0.5, "dB SPL", rotation=90, fontsize=8.4,
            transform=ax.transAxes, va="center", ha="center")
    ax.set_xlabel("time", fontsize=8)


fig = plt.figure(figsize=(24, 12), dpi=100)
ax1 = fig.add_axes([0.0242, 0.51, 0.9517, 0.42])
ax2 = fig.add_axes([0.0242, 0.0417, 0.9517, 0.4217])

fig.text(0.009, 0.991, "data from [421/mic0]\nstarting point is [20251010_000021]",
         fontsize=8.7, fontweight="bold", va="top", ha="left", linespacing=1.05)

# upper panel
style(ax1, "%H:%M")
ax1.set_title("average and peak noise level (1 min sampling)", loc="left",
              fontsize=7.3, fontweight="bold", pad=5)

pk = dict(ls="", marker="+", ms=3.2, mew=0.9)
for t, v in ((band_t, band_a), (band_t2, band_a2), unzip(peak_a)):
    ax1.plot(t, v, color="seagreen", **pk)
for t, v in ((band_t, band_c), (band_t2, band_c2), unzip(peak_c)):
    ax1.plot(t, v, color="magenta", **pk)
for t, v in ((band_t, band_z), (band_t2, band_z2), unzip(peak_z)):
    ax1.plot(t, v, color="dodgerblue", **pk)

ax1.plot(*unzip(avg_a), color="yellowgreen", lw=1.2)
ax1.plot(*unzip(avg_c), color="orchid", lw=1.2)
ax1.plot(*unzip(avg_z), color="steelblue", lw=1.2)

h1 = [
    Line2D([], [], ls="", marker="o", ms=3.5, color="dodgerblue", label="peak dB(Z)"),
    Line2D([], [], ls="", marker="o", ms=3.5, color="magenta", label="peak dB(C)"),
    Line2D([], [], ls="", marker="o", ms=3.5, color="seagreen", label="peak dB(A)"),
    Line2D([], [], color="steelblue", lw=3, label="avg dB(Z)"),
    Line2D([], [], color="orchid", lw=3, label="avg dB(C)"),
    Line2D([], [], color="yellowgreen", lw=3, label="avg dB(A)"),
]
ax1.legend(handles=h1, ncol=2, loc="lower right", fontsize=7.2, facecolor=BG,
           edgecolor="tan", framealpha=0.9, labelspacing=0.1, borderpad=0.35,
           handlelength=3.2, columnspacing=1.6, borderaxespad=0.35)

# lower panel
style(ax2, "%H:%M:%S")
ax2.set_title("average noise level (5 min with 15s min/max dB envelope)", loc="left",
              fontsize=7.3, fontweight="bold", pad=5)

zt, zv = unzip(low_z)
ct, cv = unzip(low_c)
st = [at(s[0]) for s in env_spikes]
ax2.vlines(st, [s[1] for s in env_spikes], [s[2] for s in env_spikes],
           color="#f3c2ad", lw=1.0, alpha=0.8, zorder=2)
ax2.fill_between(zt, cv, zv, color="#f3c2ad", alpha=0.5, lw=0, zorder=2)

ax2.plot(*unzip(low_a), color="gold", lw=1.4, zorder=3)
ax2.plot(ct, cv, color="darkorange", lw=1.6, zorder=3)
ax2.plot(zt, zv, color="crimson", lw=1.6, zorder=4)

h2 = [
    Line2D([], [], color="crimson", lw=3, label="dB(Z)"),
    Line2D([], [], color="darkorange", lw=3, label="dB(C)"),
    Line2D([], [], color="gold", lw=3, label="dB(A)"),
]
ax2.legend(handles=h2, loc="lower right", fontsize=6.8, facecolor=BG,
           edgecolor="tan", framealpha=0.9, labelspacing=0.1, borderpad=0.35,
           handlelength=3.0, borderaxespad=0.35)

fig.savefig("out.png", dpi=100)
